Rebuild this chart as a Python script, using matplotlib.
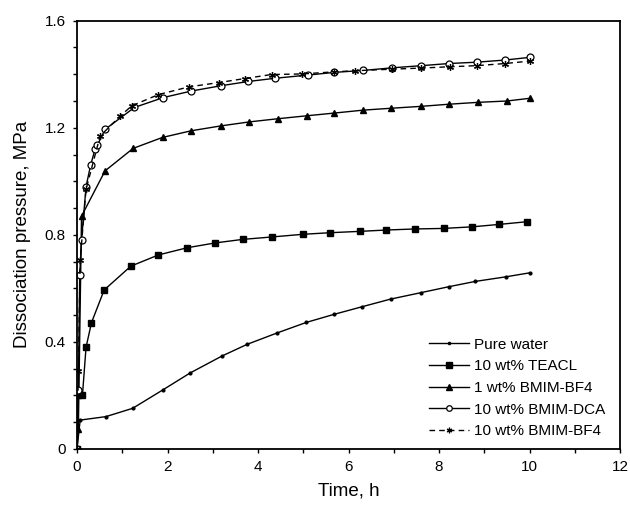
import matplotlib
matplotlib.use("Agg")
import matplotlib.pyplot as plt
from matplotlib.ticker import MultipleLocator, FuncFormatter

plt.rcParams['font.family'] = ['Liberation Sans', 'DejaVu Sans']

# Data (time in h, pressure in MPa)
t_water = [0, 0.07, 0.64, 1.23, 1.89, 2.50, 3.20, 3.76, 4.43, 5.07, 5.68, 6.29, 6.93, 7.60, 8.21, 8.80, 9.47, 10.0]
p_water = [0, 0.108, 0.121, 0.152, 0.22, 0.284, 0.347, 0.391, 0.434, 0.473, 0.503, 0.531, 0.560, 0.584, 0.606, 0.626, 0.643, 0.658]

t_teacl = [0, 0.03, 0.12, 0.2, 0.32, 0.60, 1.19, 1.80, 2.44, 3.06, 3.66, 4.30, 4.99, 5.59, 6.25, 6.83, 7.47, 8.10, 8.74, 9.33, 9.94]
p_teacl = [0, 0.2, 0.2, 0.38, 0.472, 0.594, 0.683, 0.725, 0.752, 0.770, 0.783, 0.792, 0.802, 0.808, 0.813, 0.818, 0.822, 0.824, 0.830, 0.839, 0.849]

t_bf4_1 = [0, 0.03, 0.1, 0.62, 1.24, 1.89, 2.53, 3.18, 3.81, 4.45, 5.09, 5.69, 6.33, 6.95, 7.60, 8.22, 8.86, 9.50, 10.0]
p_bf4_1 = [0, 0.075, 0.87, 1.039, 1.123, 1.164, 1.189, 1.207, 1.222, 1.234, 1.245, 1.255, 1.266, 1.273, 1.280, 1.288, 1.295, 1.30, 1.31]

t_dca = [0, 0.03, 0.06, 0.1, 0.2, 0.3, 0.4, 0.45, 0.62, 1.27, 1.91, 2.52, 3.18, 3.79, 4.38, 5.11, 5.69, 6.31, 6.97, 7.61, 8.22, 8.83, 9.46, 10.0]
p_dca = [0, 0.22, 0.65, 0.78, 0.98, 1.06, 1.12, 1.135, 1.194, 1.276, 1.313, 1.337, 1.357, 1.373, 1.385, 1.397, 1.407, 1.414, 1.424, 1.432, 1.440, 1.445, 1.453, 1.463]

t_bf4_10 = [0, 0.03, 0.07, 0.2, 0.51, 0.95, 1.21, 1.80, 2.48, 3.14, 3.71, 4.30, 4.97, 5.69, 6.14, 6.97, 7.61, 8.24, 8.83, 9.46, 10.0]
p_bf4_10 = [0, 0.29, 0.705, 0.97, 1.169, 1.243, 1.282, 1.324, 1.353, 1.369, 1.384, 1.399, 1.401, 1.409, 1.413, 1.419, 1.423, 1.428, 1.432, 1.44, 1.449]

labels = ["Pure water", "10 wt% TEACL", "1 wt% BMIM-BF4", "10 wt% BMIM-DCA", "10 wt% BMIM-BF4"]
x_ticks = [0, 2, 4, 6, 8, 10, 12]
y_ticks = [0, 0.4, 0.8, 1.2, 1.6]

fig = plt.figure(figsize=(6.3, 5.05), dpi=100)
ax = fig.add_axes([77/630, 1 - 449/505, 543/630, (449 - 20.7)/505])

lw = 1.0
ax.plot(t_water, p_water, '-', color='black', lw=lw, marker='o', ms=2.0, label=labels[0])
ax.plot(t_teacl, p_teacl, '-', color='black', lw=lw, marker='s', ms=5, label=labels[1])
ax.plot(t_bf4_1, p_bf4_1, '-', color='black', lw=lw, marker='^', ms=5, label=labels[2])
ax.plot(t_dca, p_dca, '-', color='black', lw=lw, marker='o', ms=5, mfc='white', mew=0.9, label=labels[3])
ax.plot(t_bf4_10, p_bf4_10, '--', color='black', lw=lw, marker=(6, 2, 0), ms=5, mew=0.9,
        dashes=(4, 3), label=labels[4])

ax.set_xlim(0, 12)
ax.set_ylim(0, 1.6)
ax.set_xticks(x_ticks)
ax.set_yticks(y_ticks)
ax.xaxis.set_minor_locator(MultipleLocator(1))
ax.yaxis.set_minor_locator(MultipleLocator(0.1))
ax.xaxis.set_major_formatter(FuncFormatter(lambda v, p: "0" if abs(v) < 1e-9 else f"{v:g}"))
ax.yaxis.set_major_formatter(FuncFormatter(lambda v, p: "0" if abs(v) < 1e-9 else f"{v:.1f}"))
ax.tick_params(which='major', direction='out', length=3.2, width=1.0, labelsize=11, pad=5)
ax.tick_params(which='minor', direction='out', length=3.0, width=1.0)
for s in ax.spines.values():
    s.set_linewidth(1.3)

ax.set_xlabel("Time, h", fontsize=13.5, labelpad=6)
ax.set_ylabel("Dissociation pressure, MPa", fontsize=13.5, labelpad=10)

leg = ax.legend(loc='lower left', bbox_to_anchor=(0.648, 0.025), frameon=False,
                fontsize=11, handlelength=2.6, handletextpad=0.35, labelspacing=0.5,
                borderpad=0, borderaxespad=0, markerscale=0.8)

fig.savefig("out.png", dpi=100)
